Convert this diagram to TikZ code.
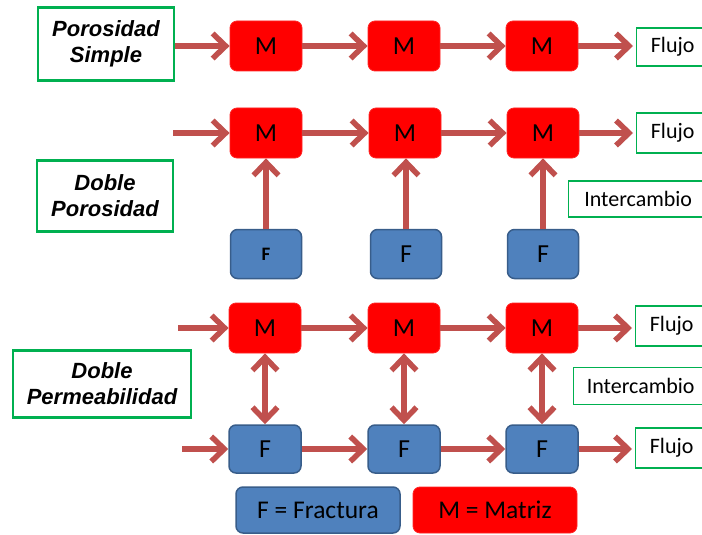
\documentclass[tikz,border=0pt]{standalone}
\usepackage{fontspec}
\setmainfont{Liberation Sans}
\newfontfamily\calfont{Carlito}
\usetikzlibrary{arrows.meta}
\definecolor{arrowred}{HTML}{C0504D}
\definecolor{mred}{HTML}{FF0000}
\definecolor{fblue}{HTML}{4F81BD}
\definecolor{fblueborder}{HTML}{385D8A}
\definecolor{lgreen}{HTML}{00B050}
\tikzset{
  mbox/.style={rectangle, rounded corners=7pt, fill=mred, draw=mred!85!white, line width=0.8pt,
    minimum width=72pt, minimum height=50pt, inner sep=0pt,
    font=\calfont\fontsize{26}{30}\selectfont},
  fbox/.style={rectangle, rounded corners=7pt, fill=fblue, draw=fblueborder, line width=1.5pt,
    minimum width=71pt, minimum height=49pt, inner sep=0pt,
    font=\calfont\fontsize{26}{30}\selectfont},
  labelbox/.style={rectangle, draw=lgreen, line width=2.5pt, fill=white, align=center,
    inner sep=0pt, font=\bfseries\itshape\fontsize{22}{26}\selectfont},
  outbox/.style={rectangle, draw=lgreen, line width=1.3pt, fill=white, anchor=west,
    inner sep=0pt, font=\calfont\fontsize{22}{26}\selectfont},
  tip/.tip={Straight Barb[length=13pt,width=25pt]},
  flow/.style={draw=arrowred, line width=5.5pt, -tip},
  xchg/.style={draw=arrowred, line width=5.5pt, tip-tip},
}
\begin{document}
\begin{tikzpicture}[x=1pt,y=-1pt]
\clip (0,0) rectangle (702,535);
\fill[white] (0,0) rectangle (702,535);
% Row 1
\node[labelbox, minimum width=136pt, minimum height=73pt] (ps) at (106,44) {Porosidad\\Simple};
\node[mbox] (m11) at (266,46) {M};
\node[mbox] (m12) at (404,46) {M};
\node[mbox] (m13) at (542,46) {M};
\node[outbox, minimum width=72pt, minimum height=38pt] (fl1) at (636,47) {Flujo};
\draw[flow] (ps.east |- m11.west) -- (m11.west);
\draw[flow] (m11.east) -- (m12.west);
\draw[flow] (m12.east) -- (m13.west);
\draw[flow] (m13.east) -- ([xshift=-3pt]fl1.west |- m13.east);
% Row 2
\coordinate (in2) at (173,133);
\node[mbox] (m21) at (266,133) {M};
\node[mbox] (m22) at (405,133) {M};
\node[mbox] (m23) at (543,133) {M};
\node[outbox, minimum width=72pt, minimum height=40pt] (fl2) at (636,133) {Flujo};
\node[labelbox, minimum width=136pt, minimum height=71pt] (dp) at (105,196) {Doble\\Porosidad};
\node[fbox, font=\calfont\bfseries\fontsize{19}{22}\selectfont] (f21) at (266,254) {F};
\node[fbox] (f22) at (406,254) {F};
\node[fbox] (f23) at (543,254) {F};
\node[outbox, minimum width=139pt, minimum height=36pt] (int2) at (568,199) {Intercambio};
\draw[flow] (in2) -- (m21.west);
\draw[flow] (m21.east) -- (m22.west);
\draw[flow] (m22.east) -- (m23.west);
\draw[flow] (m23.east) -- ([xshift=-3pt]fl2.west |- m23.east);
\draw[flow] (f21.north) -- (m21.south);
\draw[flow] (f22.north) -- (f22.north |- m22.south);
\draw[flow] (f23.north) -- (m23.south);
% Row 3
\coordinate (in3) at (178,328);
\coordinate (in3f) at (182,449);
\node[mbox] (m31) at (265,328) {M};
\node[mbox] (m32) at (404,328) {M};
\node[mbox] (m33) at (542,328) {M};
\node[fbox, minimum width=72pt, minimum height=48pt] (f31) at (265,449) {F};
\node[fbox, minimum width=72pt, minimum height=48pt] (f32) at (404,449) {F};
\node[fbox, minimum width=72pt, minimum height=48pt] (f33) at (542,449) {F};
\node[outbox, minimum width=72pt, minimum height=40pt] (fl3a) at (635,326) {Flujo};
\node[outbox, minimum width=72pt, minimum height=40pt] (fl3b) at (635,448) {Flujo};
\node[outbox, minimum width=134pt, minimum height=37pt] (int3) at (573,386) {Intercambio};
\node[labelbox, minimum width=178pt, minimum height=67pt] (dperm) at (102,384) {Doble\\Permeabilidad};
\draw[flow] (in3) -- (m31.west);
\draw[flow] (m31.east) -- (m32.west);
\draw[flow] (m32.east) -- (m33.west);
\draw[flow] (m33.east) -- ([xshift=-3pt]fl3a.west |- m33.east);
\draw[flow] (in3f) -- (f31.west);
\draw[flow] (f31.east) -- (f32.west);
\draw[flow] (f32.east) -- (f33.west);
\draw[flow] (f33.east) -- ([xshift=-3pt]fl3b.west |- f33.east);
\draw[xchg] (m31.south) -- (f31.north);
\draw[xchg] (m32.south) -- (f32.north);
\draw[xchg] (m33.south) -- (f33.north);
% Legend
\node[fbox, minimum width=164pt, minimum height=46pt, font=\calfont\fontsize{25.5}{30}\selectfont] (lf) at (318,510) {F = Fractura};
\node[mbox, minimum width=164pt, minimum height=46pt, font=\calfont\fontsize{25.5}{30}\selectfont] (lm) at (495,510) {M = Matriz};
\end{tikzpicture}
\end{document}
